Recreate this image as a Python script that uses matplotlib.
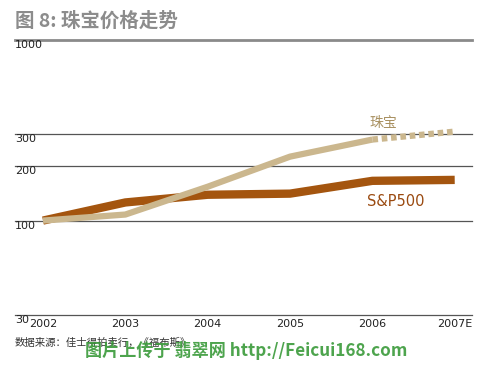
import matplotlib
matplotlib.use("Agg")
import matplotlib.pyplot as plt
import matplotlib.transforms as mtransforms

plt.rcParams['font.family'] = ['Noto Sans CJK SC', 'DejaVu Sans']

years = [2002, 2003, 2004, 2005, 2006, 2007]
year_labels = ["2002", "2003", "2004", "2005", "2006", "2007E"]
sp500 = [100, 126, 139, 141, 166, 168]
jewelry = [100, 108, 154, 226, 281, 311]
y_levels = [30, 100, 200, 300, 1000]
y_labels = ["30", "100", "200", "300", "1000"]

fig = plt.figure(figsize=(4.91, 3.67), dpi=100)
W, H = 491, 367
ax = fig.add_axes([15 / W, (H - 315) / H, 457 / W, 275 / H])
ax.set_yscale('log')
ax.set_ylim(30, 1000)
ax.set_xlim(2001.66, 2007.21)

for lv in y_levels:
    if lv == 1000:
        ax.axhline(lv, color='#8a8a8a', lw=2.0, zorder=1, clip_on=False)
    else:
        ax.axhline(lv, color='#555555', lw=0.9, zorder=1, clip_on=False)

trans = mtransforms.blended_transform_factory(ax.transAxes, ax.transData)
for lv, lab in zip(y_levels, y_labels):
    ax.text(0.0, lv, lab, transform=trans, ha='left', va='top',
            fontsize=8, color='#222222', family='DejaVu Sans')

sp_color = '#a4550f'
jw_color = '#cbb78e'
ax.plot(years, sp500, color=sp_color, lw=6.0, solid_capstyle='butt', zorder=3)
ax.plot(years[:5], jewelry[:5], color=jw_color, lw=4.5, solid_capstyle='butt', zorder=4)
ax.plot(years[4:], jewelry[4:], color=jw_color, lw=4.5, ls=(0, (0.9, 0.6)), zorder=4)

ax.text(2006.13, 345, "珠宝", color='#a89060', fontsize=10, ha='center', va='center')
ax.text(2006.28, 128, "S&P500", color='#9a4a10', fontsize=10.5, ha='center', va='center',
        family='DejaVu Sans')

ax.set_xticks(years)
ax.set_xticklabels(year_labels, fontsize=8, color='#222222', family='DejaVu Sans')
ax.tick_params(axis='x', length=0, pad=3)
ax.set_yticks([])
ax.yaxis.set_minor_locator(matplotlib.ticker.NullLocator())
for s in ax.spines.values():
    s.set_visible(False)
ax.patch.set_alpha(0)

fig.text(15 / W, 1 - 21 / H, "图 8: 珠宝价格走势", fontsize=14, fontweight='bold',
         color='#8c8c8c', ha='left', va='center')
fig.text(15 / W, 1 - 343 / H, "数据来源：佳士得拍卖行，《福布斯》", fontsize=7.5,
         color='#333333', ha='left', va='center')
fig.text(85 / W, 1 - 351 / H, "图片上传于 翡翠网 http://Feicui168.com", fontsize=12.3,
         color='#3a9a3a', ha='left', va='center', alpha=0.9, fontweight='bold')

fig.savefig("out.png", dpi=100)
